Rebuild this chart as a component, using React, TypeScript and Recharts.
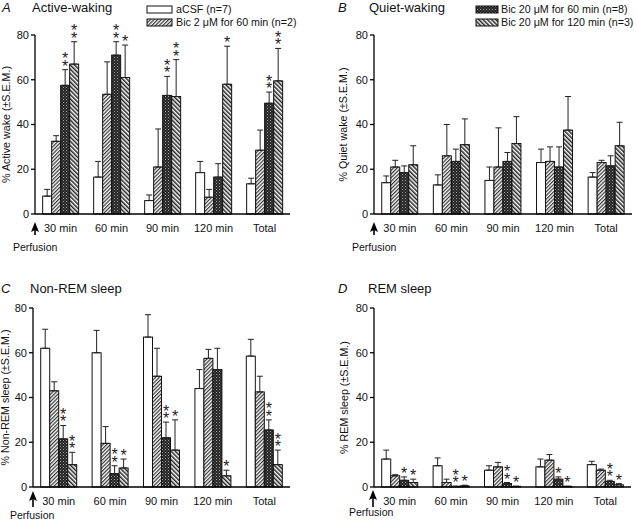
import React from 'react'
import { BarChart, Bar, XAxis, YAxis, ErrorBar } from 'recharts'

const categories = ['30 min', '60 min', '90 min', '120 min', 'Total']

// A: active waking (mean, upper end of SEM bar)
const activeCsf = [8, 16.5, 6, 18.5, 13.5]
const activeCsfTop = [11, 23.5, 8.5, 23.5, 16]
const activeBic2 = [32.5, 53.5, 21, 7.5, 28.5]
const activeBic2Top = [35, 68, 38, 11, 37.5]
const activeBic60 = [57.5, 71, 53, 16.5, 49.5]
const activeBic60Top = [64.5, 77, 61.5, 22.5, 54.5]
const activeBic120 = [67, 61, 52.5, 58, 59.5]
const activeBic120Top = [77, 75.5, 69, 75, 74]
const activeStars60 = ['**', '**', '**', '', '**']
const activeStars120 = ['**', '*', '**', '*', '**']

// B: quiet waking
const quietCsf = [14, 13, 15, 23, 16.5]
const quietCsfTop = [17, 17.5, 21, 29, 18.5]
const quietBic2 = [21, 26, 21, 23.5, 23]
const quietBic2Top = [24, 40, 38.5, 30, 24]
const quietBic60 = [18.5, 23.5, 23.5, 21, 21.5]
const quietBic60Top = [21.5, 29, 27.5, 30, 26]
const quietBic120 = [22, 31, 31.5, 37.5, 30.5]
const quietBic120Top = [30.5, 42.5, 43.5, 52.5, 41]

// C: non-REM sleep
const nremCsf = [62, 60, 67, 44, 58.5]
const nremCsfTop = [70.5, 70, 77, 52.5, 66]
const nremBic2 = [43, 19.5, 49.5, 57.5, 42.5]
const nremBic2Top = [47, 27, 62, 61.5, 49.5]
const nremBic60 = [21.5, 6, 22, 52.5, 25.5]
const nremBic60Top = [27.5, 9.5, 29, 62, 30]
const nremBic120 = [10, 8.5, 16.5, 5, 10]
const nremBic120Top = [15.5, 12.5, 30, 7.5, 16.5]
const nremStars60 = ['**', '**', '**', '', '**']
const nremStars120 = ['**', '*', '*', '*', '**']

// D: REM sleep
const remCsf = [12.5, 9.5, 7.5, 9, 10]
const remCsfTop = [16.5, 13, 9.5, 12.5, 11.5]
const remBic2 = [5, 2, 9, 12, 7.5]
const remBic2Top = [5.5, 3.5, 11, 14.5, 8]
const remBic60 = [3, 0.3, 1.5, 3.5, 2.5]
const remBic60Top = [4.5, 0.3, 2, 4.5, 3]
const remBic120 = [2, 0.5, 0.3, 0.3, 1]
const remBic120Top = [3.5, 0.8, 0.3, 0.3, 1.5]
const remStars60 = ['*', '**', '**', '*', '**']
const remStars120 = ['*', '*', '*', '*', '*']

const yTicks = [0, 20, 40, 60, 80]
const PLOT_H = 179
const K = PLOT_H / 80
const FONT = '"Liberation Sans", Arial, sans-serif'

function buildRows(s: number[][], tops: number[][], stars: string[][]) {
  const keys = ['a', 'b', 'c', 'd']
  return categories.map((cat, i) => {
    const row: any = { cat }
    keys.forEach((k, j) => {
      row[k] = s[j][i]
      row[k + 'Top'] = tops[j][i]
      row[k + 'Err'] = [0, Math.max(0, tops[j][i] - s[j][i])]
      row[k + 'S'] = stars[j] ? stars[j][i] : ''
    })
    return row
  })
}

const makeShape = (key: string) => (props: any) => {
  const { x, y, width, height, fill, payload } = props
  const base = y + height
  const top = base - payload[key + 'Top'] * K
  const st: string = payload[key + 'S'] || ''
  const cx = x + width / 2
  const n = st.length
  return (
    <g>
      <rect x={x} y={y} width={width} height={Math.max(height, 0.5)} fill={fill} stroke="#111" strokeWidth={1} />
      {n > 0 && (
        // stacked asterisks, bottom one sits just over the SEM cap
        <text x={cx} y={top + 2 - (n - 1) * 7.5} textAnchor="middle" fontSize={16} fill="#222" fontFamily={FONT}>
          {st.split('').map((s, i) => (
            <tspan key={i} x={cx} dy={i === 0 ? 0 : 7.5}>{s}</tspan>
          ))}
        </text>
      )}
    </g>
  )
}

const fills = ['#fff', 'url(#pBic2)', 'url(#pDark)', 'url(#pBic120)']
const serKeys = ['a', 'b', 'c', 'd']

function Panel({ rows, left, top, height, margin, yWidth }: any) {
  return (
    <div style={{ position: 'absolute', left, top }}>
      <BarChart width={318} height={height} data={rows} margin={margin} barCategoryGap="15%" barGap={0}>
        <XAxis
          dataKey="cat"
          height={30}
          tickLine={false}
          tickSize={0}
          tickMargin={10}
          axisLine={{ stroke: '#000', strokeWidth: 1.3 }}
          tick={{ fontSize: 11, fill: '#111', fontFamily: FONT }}
          interval={0}
        />
        <YAxis
          width={yWidth}
          domain={[0, 80]}
          ticks={yTicks}
          tickSize={4}
          tickMargin={2}
          axisLine={{ stroke: '#000', strokeWidth: 1.3 }}
          tickLine={{ stroke: '#000', strokeWidth: 1.3 }}
          tick={{ fontSize: 11, fill: '#111', fontFamily: FONT }}
        />
        {serKeys.map((k, i) => (
          <Bar key={k} dataKey={k} fill={fills[i]} shape={makeShape(k)} isAnimationActive={false}>
            <ErrorBar dataKey={k + 'Err'} width={3} stroke="#222" strokeWidth={1} direction="y" />
          </Bar>
        ))}
      </BarChart>
    </div>
  )
}

const Arrow = ({ x, y1, y2 }: { x: number; y1: number; y2: number }) => (
  <g>
    <polygon points={`${x},${y1} ${x + 4},${y1 + 10} ${x},${y1 + 8} ${x - 4},${y1 + 10}`} fill="#000" />
    <line x1={x} y1={y1 + 6} x2={x} y2={y2} stroke="#000" strokeWidth={1.6} />
  </g>
)

const YLabel = ({ x, y, text }: { x: number; y: number; text: string }) => (
  <text transform={`translate(${x},${y}) rotate(-90)`} textAnchor="middle" dominantBaseline="central" fontSize={10.7} fill="#111">
    {text}
  </text>
)

export default function App() {
  const rowsA = buildRows(
    [activeCsf, activeBic2, activeBic60, activeBic120],
    [activeCsfTop, activeBic2Top, activeBic60Top, activeBic120Top],
    [[], [], activeStars60, activeStars120]
  )
  const rowsB = buildRows(
    [quietCsf, quietBic2, quietBic60, quietBic120],
    [quietCsfTop, quietBic2Top, quietBic60Top, quietBic120Top],
    [[], [], [], []]
  )
  const rowsC = buildRows(
    [nremCsf, nremBic2, nremBic60, nremBic120],
    [nremCsfTop, nremBic2Top, nremBic60Top, nremBic120Top],
    [[], [], nremStars60, nremStars120]
  )
  const rowsD = buildRows(
    [remCsf, remBic2, remBic60, remBic120],
    [remCsfTop, remBic2Top, remBic60Top, remBic120Top],
    [[], [], remStars60, remStars120]
  )

  return (
    <div style={{ position: 'relative', width: 636, height: 521, background: '#fff', fontFamily: FONT, overflow: 'hidden' }}>
      <style>{'body{margin:0}'}</style>
      <Panel rows={rowsA} left={0} top={0} height={260} yWidth={35} margin={{ top: 35, right: 28, bottom: 16, left: 0 }} />
      <Panel rows={rowsB} left={318} top={0} height={260} yWidth={56} margin={{ top: 35, right: 4, bottom: 16, left: 0 }} />
      <Panel rows={rowsC} left={0} top={260} height={261} yWidth={33} margin={{ top: 48, right: 28, bottom: 4, left: 0 }} />
      <Panel rows={rowsD} left={318} top={260} height={261} yWidth={56} margin={{ top: 48, right: 5, bottom: 4, left: 0 }} />

      <svg width={636} height={521} style={{ position: 'absolute', left: 0, top: 0, pointerEvents: 'none' }} fontFamily={FONT}>
        <defs>
          <pattern id="pBic2" width="2.6" height="2.6" patternUnits="userSpaceOnUse" patternTransform="rotate(45)">
            <rect width="2.6" height="2.6" fill="#fff" />
            <rect width="1.2" height="2.6" fill="#333" />
          </pattern>
          <pattern id="pBic120" width="3" height="3" patternUnits="userSpaceOnUse" patternTransform="rotate(-45)">
            <rect width="3" height="3" fill="#fff" />
            <rect width="1.5" height="3" fill="#222" />
          </pattern>
          <pattern id="pDark" width="3" height="3" patternUnits="userSpaceOnUse">
            <rect width="3" height="3" fill="#222" />
            <rect x="0" y="0" width="1" height="1" fill="#aaa" />
            <rect x="1.5" y="1.5" width="1" height="1" fill="#777" />
          </pattern>
        </defs>

        {/* titles */}
        <text x={2} y={12} fontSize={13} fontStyle="italic" fill="#111">A</text>
        <text x={32} y={12} fontSize={13} fill="#111">Active-waking</text>
        <text x={338} y={12} fontSize={13} fontStyle="italic" fill="#111">B</text>
        <text x={369} y={12} fontSize={13} fill="#111">Quiet-waking</text>
        <text x={1} y={293} fontSize={13} fontStyle="italic" fill="#111">C</text>
        <text x={30} y={293} fontSize={13} fill="#111">Non-REM sleep</text>
        <text x={338} y={293} fontSize={13} fontStyle="italic" fill="#111">D</text>
        <text x={368} y={293} fontSize={13} fill="#111">REM sleep</text>

        {/* legends */}
        <rect x={147} y={6} width={25} height={7} fill="#fff" stroke="#111" />
        <text x={176} y={13} fontSize={10.7} fill="#111">aCSF (n=7)</text>
        <rect x={147} y={19} width={25} height={7} fill="url(#pBic2)" stroke="#111" />
        <text x={176} y={26} fontSize={10.7} fill="#111">Bic 2 μM for 60 min (n=2)</text>
        <rect x={476} y={6} width={22} height={7} fill="url(#pDark)" stroke="#111" />
        <text x={501} y={13} fontSize={10.7} fill="#111">Bic 20 μM for 60 min (n=8)</text>
        <rect x={476} y={19} width={22} height={7} fill="url(#pBic120)" stroke="#111" />
        <text x={501} y={26} fontSize={10.7} fill="#111">Bic 20 μM for 120 min (n=3)</text>

        {/* axis titles */}
        <YLabel x={6} y={124.5} text="% Active wake (±S.E.M.)" />
        <YLabel x={343} y={124.5} text="% Quiet wake (±S.E.M.)" />
        <YLabel x={5} y={397.5} text="% Non-REM sleep (±S.E.M.)" />
        <YLabel x={344} y={397.5} text="% REM sleep (±S.E.M.)" />

        {/* perfusion markers */}
        <Arrow x={35} y1={222} y2={235} />
        <text x={13} y={251} fontSize={10.5} fill="#111">Perfusion</text>
        <Arrow x={374} y1={222} y2={235} />
        <text x={352} y={251} fontSize={10.5} fill="#111">Perfusion</text>
        <Arrow x={33} y1={491} y2={507} />
        <text x={10} y={519} fontSize={10.5} fill="#111">Perfusion</text>
        <Arrow x={373} y1={490} y2={507} />
        <text x={349} y={516} fontSize={10.5} fill="#111">Perfusion</text>
      </svg>
    </div>
  )
}
